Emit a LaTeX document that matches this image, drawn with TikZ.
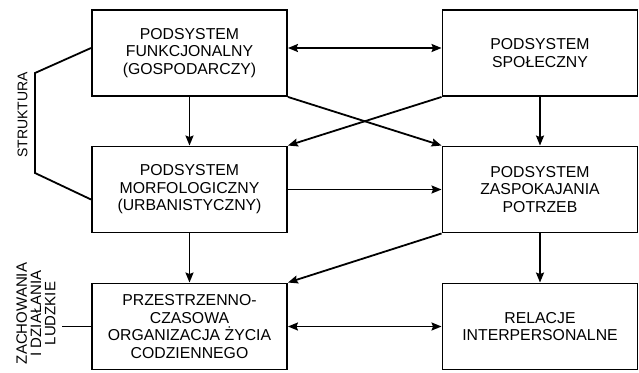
\documentclass[tikz,border=0pt]{standalone}
\usepackage{fontspec}
\setmainfont{Liberation Sans}
\usetikzlibrary{arrows.meta}
\begin{document}
\begin{tikzpicture}[x=1pt,y=-1pt,
  box/.style={draw,line width=1.9pt,minimum width=195pt,minimum height=86pt,inner sep=0pt,align=center,
    font=\fontsize{15.8}{17.4}\selectfont},
  conn/.style={line width=1.8pt},
  arr/.style={conn,-{Stealth[length=10pt,width=8pt,inset=1.5pt]}},
  darr/.style={conn,{Stealth[length=10pt,width=8pt,inset=1.5pt]}-{Stealth[length=10pt,width=8pt,inset=1.5pt]}}]
\useasboundingbox (0,0) rectangle (639,372);
\node[box] (b1) at (189.5,53) {PODSYSTEM\\FUNKCJONALNY\\(GOSPODARCZY)};
\node[box] (b2) at (540,53) {PODSYSTEM\\SPOŁECZNY};
\node[box] (b3) at (189.5,189.5) {PODSYSTEM\\MORFOLOGICZNY\\(URBANISTYCZNY)};
\node[box] (b4) at (540,189.5) {PODSYSTEM\\ZASPOKAJANIA\\POTRZEB};
\node[box] (b5) at (189.5,326.5) {PRZESTRZENNO-\\CZASOWA\\ORGANIZACJA ŻYCIA\\CODZIENNEGO};
\node[box] (b6) at (540,326.5) {RELACJE\\INTERPERSONALNE};
% connectors
\draw[darr] ([yshift=5pt]b1.east) -- ([yshift=5pt]b2.west);
\draw[arr] (b1.south) -- (b3.north);
\draw[arr] (b2.south) -- (b4.north);
\draw[arr] (b3.east) -- (b4.west);
\draw[arr] (b3.south) -- (b5.north);
\draw[arr] (b4.south) -- (b6.north);
\draw[darr] (b5.east) -- (b6.west);
\draw[arr] (b1.south east) -- (b4.north west);
\draw[arr] (b2.south west) -- (b3.north east);
\draw[arr] (b4.south west) -- (b5.north east);
% STRUKTURA bracket
\coordinate (s1) at (35,73);
\coordinate (s2) at (35,173);
\draw[conn,line join=miter] ([yshift=5pt]b1.west) -- (s1) -- (s2) -- ([yshift=-10pt]b3.west);
\node[rotate=90,inner sep=0pt,font=\fontsize{14}{16}\selectfont] (st) at (22.5,115) {STRUKTURA};
% ZACHOWANIA
\coordinate (z1) at (62,326.5);
\draw[conn] (b5.west) -- (z1);
\node[rotate=90,inner sep=0pt,align=center,font=\fontsize{15}{14.2}\selectfont] (zd) at (36,313.5) {ZACHOWANIA\\I DZIAŁANIA\\LUDZKIE};
\end{tikzpicture}
\end{document}
